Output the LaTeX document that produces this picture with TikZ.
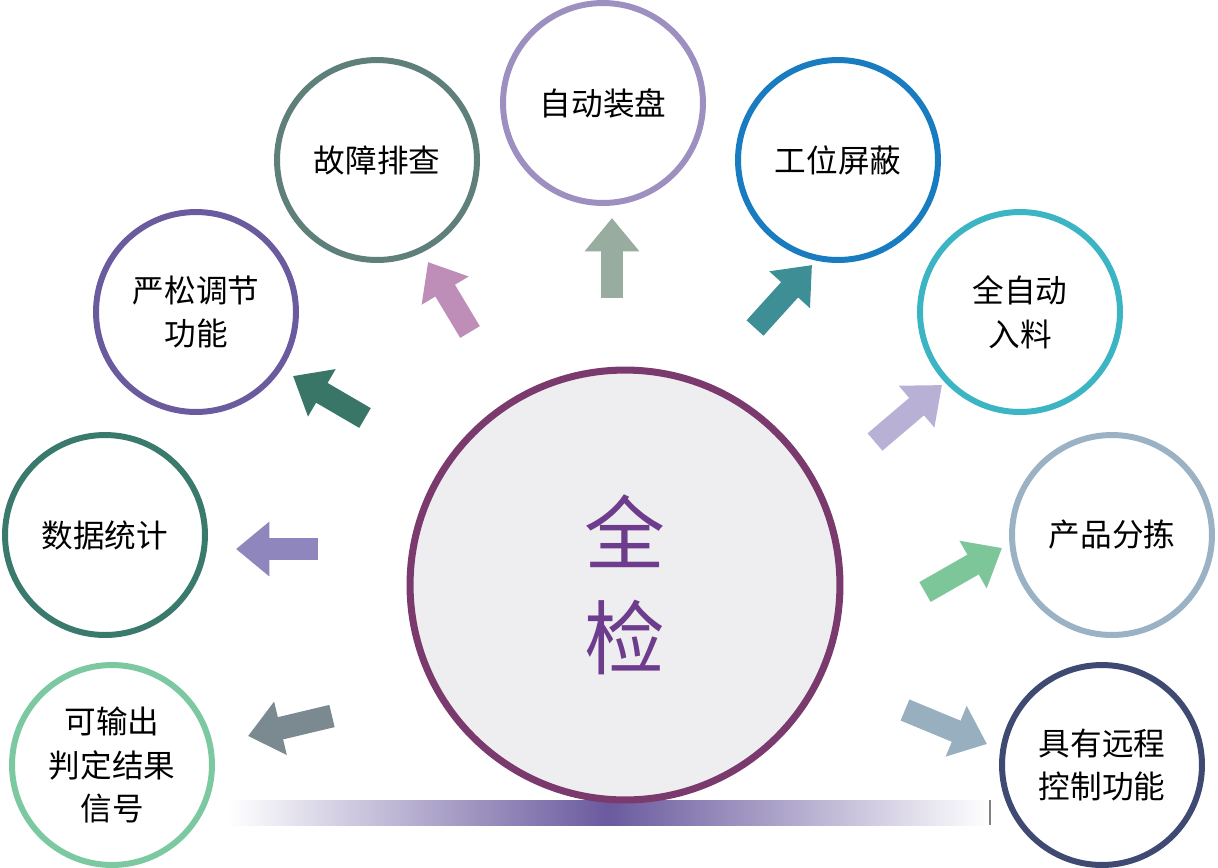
\documentclass[tikz,border=0pt]{standalone}
\usepackage{fontspec}
\setmainfont{Noto Sans CJK SC}
\usetikzlibrary{arrows.meta}
\definecolor{HubLine}{HTML}{7B3A6E}
\definecolor{HubText}{HTML}{6E3C8C}
\definecolor{HubFill}{HTML}{EEEEF0}
\definecolor{BarPurple}{HTML}{6A5A9E}
\definecolor{cPan}{HTML}{9D8FC0}
\definecolor{cFault}{HTML}{5E7F7A}
\definecolor{cShield}{HTML}{1A7CC0}
\definecolor{cAdjust}{HTML}{6A5A9E}
\definecolor{cFeed}{HTML}{3BB5C4}
\definecolor{cStat}{HTML}{3A7A6C}
\definecolor{cSort}{HTML}{9AB2C4}
\definecolor{cSignal}{HTML}{7CC8A0}
\definecolor{cRemote}{HTML}{3E4A72}
\definecolor{aPan}{HTML}{98ADA0}
\definecolor{aFault}{HTML}{BF8EB8}
\definecolor{aShield}{HTML}{3E8E96}
\definecolor{aAdjust}{HTML}{3A7668}
\definecolor{aFeed}{HTML}{B9B0D6}
\definecolor{aStat}{HTML}{8E86BC}
\definecolor{aSort}{HTML}{7DC69A}
\definecolor{aSignal}{HTML}{7A8A90}
\definecolor{aRemote}{HTML}{98AFC0}
\tikzset{
    bubble/.style={circle, draw=#1, line width=3.4pt, fill=white,
        minimum size=4.0cm, align=center, font=\fontsize{18}{25}\selectfont},
    push/.style={line width=13pt, color=#1,
        -{Triangle[width=30pt,length=19pt]}}
}
\begin{document}
\begin{tikzpicture}[x=0.02cm,y=-0.02cm]
\useasboundingbox (0,0) rectangle (1218,867);

% bar under the hub
\shade[left color=white, right color=BarPurple] (228,800) rectangle (608,825);
\shade[left color=BarPurple, right color=white] (608,800) rectangle (990,825);
\draw[gray, line width=0.6pt] (990,800) -- (990,825);

\node[circle, draw=HubLine, fill=HubFill, line width=4pt, minimum size=8.6cm,
    text=HubText, align=center, font=\fontsize{46}{60}\selectfont] (hub) at (625,585) {全\\检};

\node[bubble=cPan] (pan) at (603,103) {自动装盘};
\node[bubble=cFault] (fault) at (377,160) {故障排查};
\node[bubble=cShield] (shield) at (838,160) {工位屏蔽};
\node[bubble=cAdjust] (adjust) at (196,312) {严松调节\\功能};
\node[bubble=cFeed] (feed) at (1020,312) {全自动\\入料};
\node[bubble=cStat] (stat) at (105,535) {数据统计};
\node[bubble=cSort] (sort) at (1112,535) {产品分拣};
\node[bubble=cSignal] (signal) at (112,765) {可输出\\判定结果\\信号};
\node[bubble=cRemote] (remote) at (1102,765) {具有远程\\控制功能};

% arrow ends
\coordinate (panA) at (612,298);   \coordinate (panB) at (612,218);
\coordinate (faultA) at (470,332); \coordinate (faultB) at (428,262);
\coordinate (shieldA) at (755,328); \coordinate (shieldB) at (812,265);
\coordinate (adjustA) at (365,418); \coordinate (adjustB) at (293,376);
\coordinate (feedA) at (875,442);  \coordinate (feedB) at (942,385);
\coordinate (statA) at (318,549);  \coordinate (statB) at (236,549);
\coordinate (sortA) at (925,592);  \coordinate (sortB) at (1002,548);
\coordinate (signalA) at (332,716); \coordinate (signalB) at (248,736);
\coordinate (remoteA) at (905,710); \coordinate (remoteB) at (987,744);

\draw[push=aPan] (panA) -- (panB);
\draw[push=aFault] (faultA) -- (faultB);
\draw[push=aShield] (shieldA) -- (shieldB);
\draw[push=aAdjust] (adjustA) -- (adjustB);
\draw[push=aFeed] (feedA) -- (feedB);
\draw[push=aStat] (statA) -- (statB);
\draw[push=aSort] (sortA) -- (sortB);
\draw[push=aSignal] (signalA) -- (signalB);
\draw[push=aRemote] (remoteA) -- (remoteB);

\end{tikzpicture}
\end{document}
